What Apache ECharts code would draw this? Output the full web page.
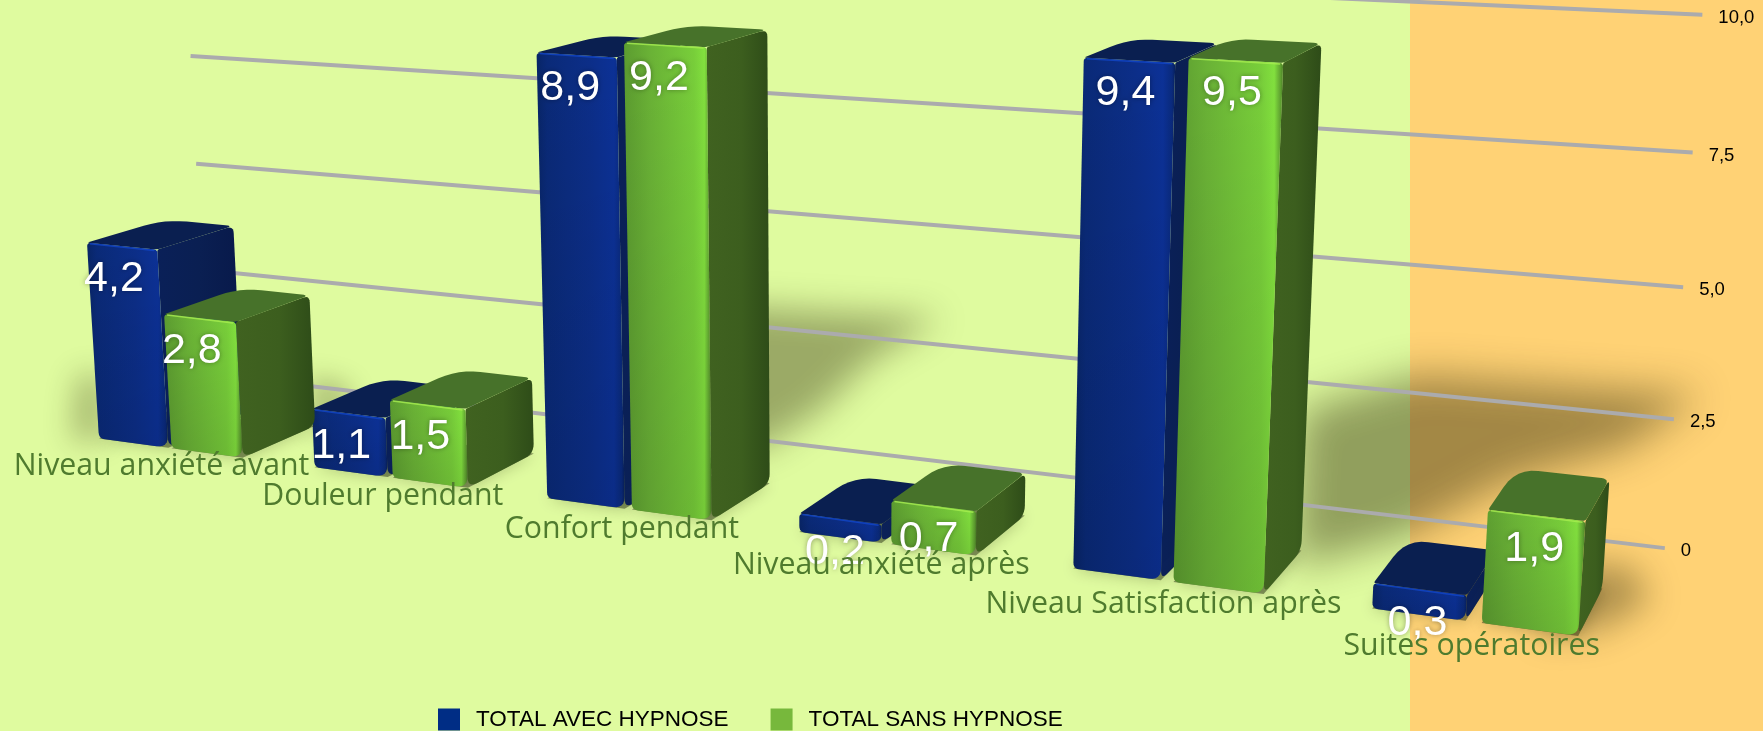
<!DOCTYPE html>
<html>
<head>
<meta charset="utf-8">
<style>html,body{margin:0;padding:0;background:#DFFB9F}#chart{width:1763px;height:731px}</style>
<script src="https://cdn.jsdelivr.net/npm/echarts@6/dist/echarts.min.js"></script>
</head>
<body>
<div id="chart"></div>
<script>
var categories = ['Niveau anxiété avant', 'Douleur pendant', 'Confort pendant', 'Niveau anxiété après', 'Niveau Satisfaction après', 'Suites opératoires'];
var avecHypnose = [4.2, 1.1, 8.9, 0.2, 9.4, 0.3];
var sansHypnose = [2.8, 1.5, 9.2, 0.7, 9.5, 1.9];
var tickValues = [0, 2.5, 5, 7.5, 10];
var tickLabels = ['0', '2,5', '5,0', '7,5', '10,0'];

var W = 1763, H = 731;

// the picture is a 3D view: flat grid pixels are pushed through this camera
var O = [99, 438.5];          // front floor corner of the first bar
var VX = [-5510, -310];       // vanishing point along the categories
var VY = [832, 12368];        // vanishing point of the verticals
var VZ = [2080, -349];        // vanishing point of the depth
var A = -0.037, B = -0.00375, C = 0.082;
var BAR_W = 0.33, BAR_SHRINK = 0.007, GREEN_OFF = 0.345, BAR_D = 0.488, WALL_U0 = -0.215, WALL_U1 = 5.77;
var BEVEL = 0.17, BAR_SCALE = 0.985;   // the bars have a rounded cap on top of their value

function project(u, v, d) {
    var a = A * u, b = B * v, c = C * d;
    var w = 1 + a + b + c;
    return [
        (O[0] + a * VX[0] + b * VY[0] + c * VZ[0]) / w,
        (O[1] + a * VX[1] + b * VY[1] + c * VZ[1]) / w
    ];
}
function toU(px) { return px / (W / 6) - 0.5; }
function toV(py) { return (H - py) / H * 10; }
function barTop(py) { return toV(py) * BAR_SCALE + BEVEL; }

// polygon with rounded corners, one radius per corner
function roundPoly(pts, radii) {
    var out = [];
    for (var i = 0; i < pts.length; i++) {
        var p = pts[i], r = radii[i];
        var prev = pts[(i + pts.length - 1) % pts.length], next = pts[(i + 1) % pts.length];
        var d1 = Math.hypot(prev[0] - p[0], prev[1] - p[1]), d2 = Math.hypot(next[0] - p[0], next[1] - p[1]);
        var r1 = Math.min(r, d1 * 0.45), r2 = Math.min(r, d2 * 0.45);
        var s = [p[0] + (prev[0] - p[0]) * r1 / d1, p[1] + (prev[1] - p[1]) * r1 / d1];
        var e = [p[0] + (next[0] - p[0]) * r2 / d2, p[1] + (next[1] - p[1]) * r2 / d2];
        for (var t = 0; t <= 6; t++) {
            var k = t / 6, q = 1 - k;
            out.push([q * q * s[0] + 2 * q * k * p[0] + k * k * e[0], q * q * s[1] + 2 * q * k * p[1] + k * k * e[1]]);
        }
    }
    return out;
}
function hGrad(stops) {
    return new echarts.graphic.LinearGradient(0, 0, 1, 0, stops.map(function (s) { return { offset: s[0], color: s[1] }; }));
}
function vGrad(stops) {
    return new echarts.graphic.LinearGradient(0, 0, 0, 1, stops.map(function (s) { return { offset: s[0], color: s[1] }; }));
}

var bluePaint = {
    front: [[0, '#082566'], [0.12, '#0A2A78'], [0.6, '#0C2E88'], [0.88, '#0C3196'], [0.97, '#0A2A7C'], [1, '#07205C']],
    side: [[0, '#0A2058'], [0.5, '#0A1F52'], [1, '#08194A']],
    top: '#0A1F50', edge: '#1246C8', floor: 'rgba(40,50,20,0.5)'
};
var greenPaint = {
    front: [[0, '#5C9C30'], [0.3, '#6AB236'], [0.8, '#78CE3A'], [0.92, '#82E03E'], [0.98, '#5E9E30'], [1, '#4A7E26']],
    side: [[0, '#406220'], [0.55, '#3C5E1E'], [1, '#2E4C18']],
    top: '#47722A', edge: '#A8EE50', floor: 'rgba(40,50,20,0.5)'
};

function barItem(offset, paint) {
    return function (params, api) {
        var i = api.value(0), val = api.value(1);
        var flat = api.coord([i, val]);
        var u = toU(flat[0]) + offset, v = barTop(flat[1]);
        var w = BAR_W - BAR_SHRINK * i, d = BAR_D;
        var fbl = project(u, 0, 0), fbr = project(u + w, 0, 0), ftr = project(u + w, v, 0), ftl = project(u, v, 0);
        var bbr = project(u + w, 0, d), btr = project(u + w, v, d), btl = project(u, v, d), bbl = project(u, 0, d);
        return {
            type: 'group',
            children: [
                { type: 'polygon', shape: { points: [fbl, fbr, bbr, bbl] },
                    style: { fill: paint.floor, shadowBlur: 16, shadowColor: 'rgba(30,40,10,0.55)' } },
                { type: 'polygon', shape: { points: roundPoly([fbr, bbr, btr, ftr], [10, 10, 7, 2]) },
                    style: { fill: hGrad(paint.side) } },
                { type: 'polygon', shape: { points: roundPoly([ftl, ftr, btr, btl], [3, 4, 8, 22]) },
                    style: { fill: paint.top } },
                { type: 'polygon', shape: { points: roundPoly([ftl, ftr, fbr, fbl], [4, 4, 12, 6]) },
                    style: { fill: hGrad(paint.front) } },
                { type: 'polygon', shape: { points: roundPoly([ftl, ftr, fbr, fbl], [4, 4, 12, 6]) },
                    style: { fill: vGrad([[0, 'rgba(0,0,0,0)'], [1, 'rgba(0,0,0,0.1)']]) } },
                { type: 'polyline', shape: { points: [[ftl[0] + 3, ftl[1] + 1], [ftr[0] - 3, ftr[1] + 1]] },
                    style: { stroke: paint.edge, lineWidth: 1.5, fill: null, opacity: 0.8 } }
            ]
        };
    };
}

function gridItem(params, api) {
    var val = api.value(0);
    var flat = api.coord([0, val]);
    var v = toV(flat[1]);
    var a = project(WALL_U0, v, 1), b = project(WALL_U1, v, 1);
    return {
        type: 'group',
        children: [
            { type: 'line', shape: { x1: a[0], y1: a[1], x2: b[0], y2: b[1] },
                style: { stroke: '#ABABAD', lineWidth: 4 } },
            { type: 'text', style: { text: tickLabels[params.dataIndex], x: b[0] + 16, y: b[1] + 3,
                fill: '#000', font: '18.5px "Liberation Sans"', align: 'left', verticalAlign: 'middle' } }
        ]
    };
}

function valueItem(params, api) {
    var i = api.value(0), val = api.value(1), off = api.value(2);
    var flat = api.coord([i, val]);
    var u = toU(flat[0]) + off + BAR_W / 2;
    var p = project(u, barTop(flat[1]), 0);
    return {
        type: 'text',
        style: { text: val.toFixed(1).replace('.', ','), x: p[0] - 8, y: p[1] + 33,
            fill: '#fff', font: '43px "Liberation Sans"', align: 'center', verticalAlign: 'middle',
            textShadowBlur: 5, textShadowColor: 'rgba(0,0,0,0.35)' }
    };
}

function categoryItem(params, api) {
    var i = api.value(0);
    var flat = api.coord([i, 0]);
    var p = project(toU(flat[0]) + GREEN_OFF, 0, 0);
    return {
        type: 'text',
        style: { text: categories[i], x: p[0] - 10, y: p[1] + 18 + i,
            fill: '#4F7B2E', font: '30.3px "Open Sans"', align: 'center', verticalAlign: 'middle' }
    };
}

// soft cast shadows, drawn far off the canvas so only the blur lands on it
function softShadow(points, blur, alpha) {
    return {
        type: 'polygon', z: 1, silent: true,
        shape: { points: points.map(function (p) { return [p[0] - 4000, p[1]]; }) },
        style: { fill: '#000', shadowBlur: blur, shadowOffsetX: 4000, shadowColor: 'rgba(45,40,10,' + alpha + ')' }
    };
}

var myChart = echarts.init(document.getElementById('chart'));
var option = {
    backgroundColor: '#DFFB9F',
    animation: false,
    grid: { left: 0, right: 0, top: 0, bottom: 0 },
    xAxis: { type: 'category', data: categories, show: false },
    yAxis: { type: 'value', min: 0, max: 10, interval: 2.5, show: false },
    legend: {
        left: 438, top: 708, padding: 0, itemWidth: 22, itemHeight: 22, itemGap: 42,
        data: [{ name: 'TOTAL AVEC HYPNOSE', icon: 'rect' }, { name: 'TOTAL SANS HYPNOSE', icon: 'rect' }],
        textStyle: { color: '#000', fontFamily: 'Liberation Sans', fontSize: 22.5, padding: [0, 0, 0, 11] }
    },
    graphic: {
        elements: [
            { type: 'rect', z: 0, silent: true, shape: { x: 1410, y: 0, width: 353, height: 731 }, style: { fill: '#FFD275' } },
            softShadow([[700, 305], [940, 318], [870, 360], [820, 410], [760, 450], [700, 440]], 34, 0.38),
            softShadow([[1301, 410], [1418, 375], [1700, 395], [1627, 447], [1510, 480], [1405, 537], [1294, 567]], 40, 0.44),
            softShadow([[1560, 565], [1630, 565], [1650, 600], [1600, 630], [1540, 635]], 34, 0.38),
            softShadow([[78, 375], [105, 375], [105, 440], [72, 440]], 30, 0.32),
            softShadow([[310, 375], [350, 385], [350, 430], [310, 430]], 24, 0.25)
        ]
    },
    series: [
        { type: 'custom', z: 2, silent: true, clip: false, renderItem: gridItem,
            encode: { y: 0 }, data: tickValues.map(function (t) { return [t]; }) },
        { type: 'custom', name: 'TOTAL AVEC HYPNOSE', z: 3, clip: false, renderItem: barItem(0, bluePaint),
            itemStyle: { color: '#002D85' },
            data: avecHypnose.map(function (v, i) { return [i, v]; }) },
        { type: 'custom', name: 'TOTAL SANS HYPNOSE', z: 4, clip: false, renderItem: barItem(GREEN_OFF, greenPaint),
            itemStyle: { color: '#77B83C' },
            data: sansHypnose.map(function (v, i) { return [i, v]; }) },
        { type: 'custom', z: 5, silent: true, clip: false, renderItem: valueItem,
            data: avecHypnose.map(function (v, i) { return [i, v, 0]; }).concat(sansHypnose.map(function (v, i) { return [i, v, GREEN_OFF]; })) },
        { type: 'custom', z: 6, silent: true, clip: false, renderItem: categoryItem,
            data: categories.map(function (c, i) { return [i]; }) }
    ]
};
myChart.setOption(option);
</script>
</body>
</html>
